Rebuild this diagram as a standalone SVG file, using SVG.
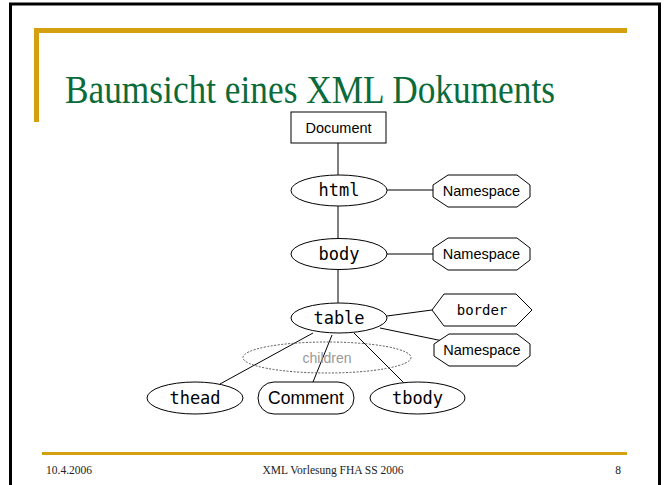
<svg xmlns="http://www.w3.org/2000/svg" width="666" height="485" viewBox="0 0 666 485">
<style>
.frame{fill:none;stroke:#000;stroke-width:3}
.gold{fill:none;stroke:#d4a010}
.title{font-family:"Liberation Serif",serif;font-size:39px;fill:#0b6b3a}
.foot{font-family:"Liberation Serif",serif;font-size:11.5px;fill:#222}
.shape{fill:#fff;stroke:#000;stroke-width:1}
.conn line{stroke:#000;stroke-width:1}
.mono{font-family:"DejaVu Sans Mono",monospace;font-size:17px;fill:#000;text-anchor:middle;dominant-baseline:central}
.sans{font-family:"Liberation Sans",sans-serif;font-size:14.5px;fill:#000;text-anchor:middle;dominant-baseline:central}
</style>
<rect width="666" height="485" fill="#fff"/>
<rect class="frame" x="10.5" y="4" width="649" height="500"/>
<polyline class="gold" stroke-width="5" points="627,30.5 36.5,30.5 36.5,122"/>
<line class="gold" stroke-width="3" x1="42" y1="453.5" x2="627" y2="453.5"/>
<text class="title" x="65" y="103" textLength="490" lengthAdjust="spacingAndGlyphs">Baumsicht eines XML Dokuments</text>
<text class="foot" x="46" y="474">10.4.2006</text>
<text class="foot" x="333" y="474" text-anchor="middle">XML Vorlesung FHA SS 2006</text>
<text class="foot" x="621" y="474" text-anchor="end">8</text>

<g id="connectors" class="conn">
<line x1="338" y1="143" x2="338" y2="175"/>
<line x1="338" y1="206" x2="338" y2="238"/>
<line x1="338" y1="270" x2="338" y2="303"/>
<line x1="387" y1="190" x2="433" y2="190"/>
<line x1="387" y1="254" x2="433" y2="254"/>
<line x1="387" y1="316" x2="432" y2="310"/>
<line x1="380" y1="328" x2="443" y2="341"/>
<line x1="313" y1="333" x2="220" y2="384"/>
<line x1="332" y1="335" x2="313" y2="382"/>
<line x1="354" y1="333" x2="404" y2="383"/>
</g>

<g id="children">
<ellipse cx="327" cy="357.5" rx="84" ry="15.5" fill="none" stroke="#555" stroke-width="1" stroke-dasharray="2,1.5"/>
<text x="327" y="358" font-family="Liberation Sans, sans-serif" font-size="14" fill="#999" text-anchor="middle" dominant-baseline="central">children</text>
</g>

<g id="document">
<rect class="shape" x="291" y="112" width="95" height="31"/>
<text class="sans" x="338.5" y="128">Document</text>
</g>
<g id="html">
<ellipse class="shape" cx="339" cy="190.5" rx="48" ry="15.5"/>
<text class="mono" x="339" y="190">html</text>
</g>
<g id="ns1">
<polygon class="shape" points="448,175 517,175 530,185 530,197 517,207 448,207 433,197 433,185"/>
<text class="sans" x="481.5" y="191">Namespace</text>
</g>
<g id="body">
<ellipse class="shape" cx="339" cy="254" rx="48" ry="15.5"/>
<text class="mono" x="339" y="253.5">body</text>
</g>
<g id="ns2">
<polygon class="shape" points="448,238 517,238 530,248 530,260 517,270 448,270 433,260 433,248"/>
<text class="sans" x="481.5" y="254">Namespace</text>
</g>
<g id="table">
<ellipse class="shape" cx="339" cy="318" rx="48" ry="15"/>
<text class="mono" x="339" y="317.5">table</text>
</g>
<g id="border">
<polygon class="shape" points="432,310 444,294 516,294 532,310 516,326 444,326"/>
<text class="mono" x="482" y="309.5" style="font-size:14px">border</text>
</g>
<g id="ns3">
<polygon class="shape" points="449,334 517,334 530,344 530,356 517,366 449,366 434,356 434,344"/>
<text class="sans" x="482" y="350">Namespace</text>
</g>
<g id="thead">
<ellipse class="shape" cx="195" cy="398" rx="48" ry="16"/>
<text class="mono" x="195" y="397.5">thead</text>
</g>
<g id="comment">
<rect class="shape" x="258" y="382" width="96" height="32" rx="16" ry="16"/>
<text class="sans" x="306" y="398" style="font-size:17.5px">Comment</text>
</g>
<g id="tbody">
<ellipse class="shape" cx="417.5" cy="398" rx="47.5" ry="16"/>
<text class="mono" x="417.5" y="397.5">tbody</text>
</g>
</svg>
